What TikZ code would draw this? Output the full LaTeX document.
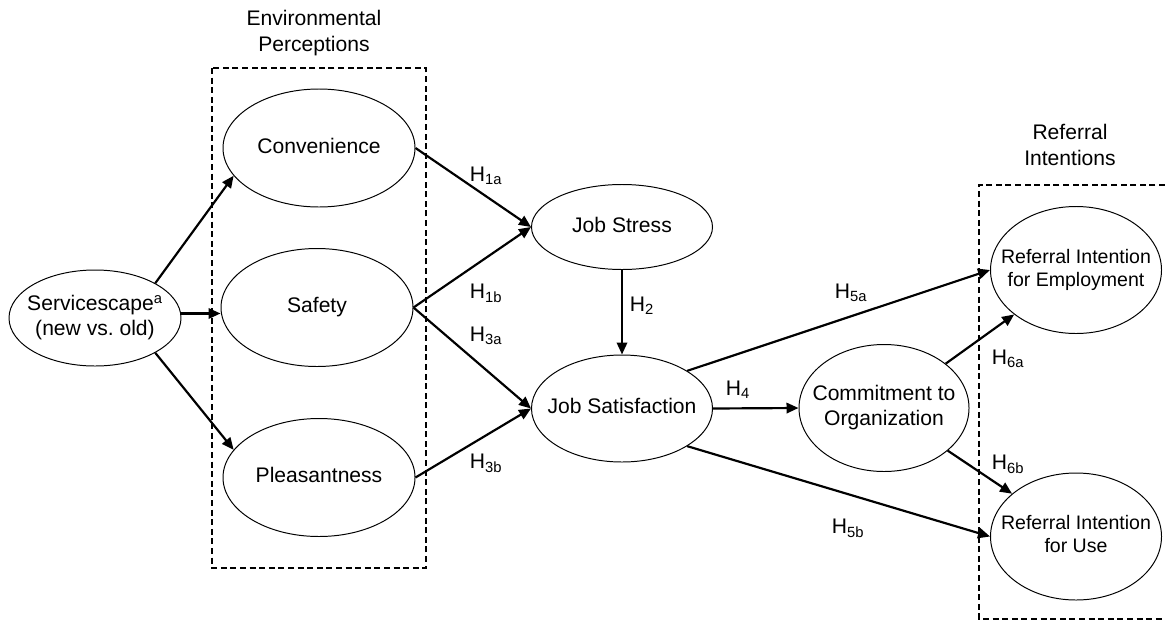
\documentclass[tikz,border=0pt]{standalone}
\usepackage{fontspec}
\setmainfont{Liberation Sans}
\usetikzlibrary{arrows.meta,shapes.geometric}

% text of a construct, kept out of the ellipse size
\newcommand{\ctext}[1]{\makebox[0pt]{\begin{tabular}{@{}c@{}}#1\end{tabular}}}

\begin{document}
\begin{tikzpicture}[x=0.25mm,y=-0.25mm,
    construct/.style={ellipse,draw,line width=0.7pt,inner sep=0pt,
        font=\fontsize{15}{18}\selectfont},
    smalltext/.style={font=\fontsize{13.9}{16.6}\selectfont},
    hyparrow/.style={line width=1.55pt,-{Triangle[length=3mm,width=2.6mm]}},
    hlabel/.style={inner sep=0pt,font=\fontsize{15}{18}\selectfont},
    groupbox/.style={line width=1.3pt,dash pattern=on 1.5mm off 0.9mm}]

\useasboundingbox (0,0) rectangle (1165,621);

% groups
\draw[groupbox] (212,68) rectangle (426,568);
\draw[groupbox] (1165,185) -- (979,185) -- (979,619) -- (1165,619);
\node[hlabel,align=center] (envtitle) at (314,33) {Environmental\\Perceptions};
\node[hlabel,align=center] (reftitle) at (1070,145) {Referral\\Intentions};

% constructs
\node[construct,minimum width=43mm,minimum height=24mm] (serv) at (95,318)
    {\ctext{Servicescape\textsuperscript{a}\\(new vs.\ old)}};
\node[construct,minimum width=48mm,minimum height=29.5mm] (conv) at (319,148) {\ctext{Convenience}};
\node[construct,minimum width=48mm,minimum height=29.5mm] (safe) at (317,307.5) {\ctext{Safety}};
\node[construct,minimum width=48mm,minimum height=29.5mm] (pleas) at (319,477.5) {\ctext{Pleasantness}};
\node[construct,minimum width=45.25mm,minimum height=21.25mm] (stress) at (622,227) {\ctext{Job Stress}};
\node[construct,minimum width=45.25mm,minimum height=26.75mm] (satis) at (622,408.5) {\ctext{Job Satisfaction}};
\node[construct,minimum width=42.5mm,minimum height=31.75mm] (commit) at (884,408)
    {\ctext{Commitment to\\Organization}};
\node[construct,smalltext,minimum width=42.75mm,minimum height=31.75mm] (refemp) at (1076,270)
    {\ctext{Referral Intention\\for Employment}};
\node[construct,smalltext,minimum width=42.75mm,minimum height=31.75mm] (refuse) at (1076,536.5)
    {\ctext{Referral Intention\\for Use}};

% paths from servicescape
\draw[hyparrow] (serv.30) -- (conv.198);
\draw[hyparrow] (serv.3) -- (safe.west |- serv.3);
\draw[hyparrow] (serv.-30) -- (pleas.162);

% hypotheses
\draw[hyparrow] (conv.east) -- (stress.west);
\draw[hyparrow] (safe.east) -- (stress.west);
\draw[hyparrow] (safe.east) -- (satis.west);
\draw[hyparrow] (pleas.east) -- (satis.west);
\draw[hyparrow] (stress.south) -- (satis.north);
\draw[hyparrow] (satis.east) -- (commit.west);
\draw[hyparrow] (satis.30) -- (refemp.west);
\draw[hyparrow] (satis.-30) -- (refuse.west);
\draw[hyparrow] (commit) -- (refemp);
\draw[hyparrow] (commit) -- (refuse);

% labels
\node[hlabel] (h1a) at (486,176) {H\textsubscript{1a}};
\node[hlabel] (h1b) at (486,293) {H\textsubscript{1b}};
\node[hlabel] (h3a) at (486,336) {H\textsubscript{3a}};
\node[hlabel] (h3b) at (486,463) {H\textsubscript{3b}};
\node[hlabel] (h2) at (642,306) {H\textsubscript{2}};
\node[hlabel] (h4) at (738,390) {H\textsubscript{4}};
\node[hlabel] (h5a) at (851,293) {H\textsubscript{5a}};
\node[hlabel] (h5b) at (848,528) {H\textsubscript{5b}};
\node[hlabel] (h6a) at (1008,359) {H\textsubscript{6a}};
\node[hlabel] (h6b) at (1008,464) {H\textsubscript{6b}};

\end{tikzpicture}
\end{document}
